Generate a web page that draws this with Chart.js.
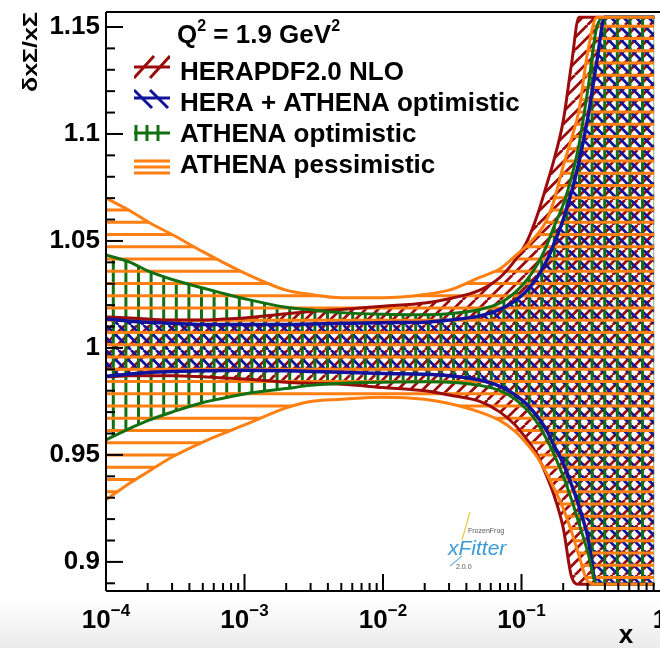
<!DOCTYPE html>
<html>
<head>
<meta charset="utf-8">
<title>dxS/xS at Q2 = 1.9 GeV2</title>
<script src="https://cdn.jsdelivr.net/npm/chart.js@4.4.1/dist/chart.umd.min.js"></script>
<style>
  html, body { margin: 0; padding: 0; background: #fff; }
  #wrap { width: 660px; height: 648px; }
</style>
</head>
<body>
<div id="wrap"><canvas id="myChart" width="660" height="648"></canvas></div>
<script>
'use strict';

var xValues = [1e-4, 1.5e-4, 2e-4, 3e-4, 5e-4, 7e-4, 1e-3, 2e-3, 3e-3, 5e-3, 1e-2, 2e-2, 3e-2, 5e-2, 7e-2,
    0.09, 0.11, 0.13, 0.15, 0.17, 0.2, 0.23, 0.26, 0.3, 0.35, 0.4, 0.5, 0.7, 0.91];

// HERAPDF2.0 NLO
var heraUp = [1.0145, 1.014, 1.0135, 1.013, 1.013, 1.0135, 1.014, 1.016, 1.017, 1.018, 1.0195, 1.021, 1.023, 1.027, 1.033,
    1.041, 1.050, 1.062, 1.075, 1.087, 1.106, 1.133, 1.1545, 1.1545, 1.1545, 1.1545, 1.1545, 1.1545, 1.1545];
var heraDn = [0.9865, 0.987, 0.987, 0.987, 0.9865, 0.986, 0.9855, 0.984, 0.9835, 0.983, 0.9815, 0.980, 0.978, 0.975, 0.970,
    0.964, 0.957, 0.950, 0.941, 0.932, 0.916, 0.893, 0.8895, 0.8895, 0.8895, 0.8895, 0.8895, 0.8895, 0.8895];
// HERA + ATHENA optimistic
var heraAthUp = [1.0135, 1.0125, 1.012, 1.0115, 1.011, 1.011, 1.011, 1.011, 1.0112, 1.0115, 1.0118, 1.012, 1.013, 1.015, 1.018,
    1.022, 1.027, 1.033, 1.040, 1.048, 1.060, 1.073, 1.087, 1.107, 1.134, 1.1545, 1.1545, 1.1545, 1.1545];
var heraAthDn = [0.9868, 0.9878, 0.9885, 0.989, 0.9893, 0.9895, 0.9896, 0.9893, 0.989, 0.9886, 0.988, 0.9877, 0.987, 0.985, 0.982,
    0.978, 0.9735, 0.968, 0.962, 0.955, 0.946, 0.936, 0.926, 0.912, 0.8895, 0.8895, 0.8895, 0.8895, 0.8895];
// ATHENA optimistic
var athOptUp = [1.0435, 1.040, 1.036, 1.032, 1.028, 1.0255, 1.023, 1.019, 1.0178, 1.0165, 1.0157, 1.0155, 1.016, 1.018, 1.021,
    1.026, 1.032, 1.039, 1.047, 1.056, 1.067, 1.080, 1.095, 1.120, 1.150, 1.1545, 1.1545, 1.1545, 1.1545];
var athOptDn = [0.957, 0.9625, 0.966, 0.970, 0.9745, 0.9765, 0.9785, 0.981, 0.9825, 0.9835, 0.984, 0.9842, 0.984, 0.9825, 0.980,
    0.976, 0.971, 0.965, 0.958, 0.951, 0.940, 0.929, 0.918, 0.905, 0.8895, 0.8895, 0.8895, 0.8895, 0.8895];
// ATHENA pessimistic
var athPesUp = [1.070, 1.064, 1.059, 1.053, 1.045, 1.040, 1.035, 1.027, 1.025, 1.0235, 1.0235, 1.025, 1.027, 1.033, 1.037,
    1.043, 1.048, 1.053, 1.059, 1.068, 1.085, 1.098, 1.111, 1.138, 1.1545, 1.1545, 1.1545, 1.1545, 1.1545];
var athPesDn = [0.929, 0.937, 0.942, 0.949, 0.956, 0.960, 0.964, 0.972, 0.975, 0.976, 0.977, 0.976, 0.974, 0.970, 0.966,
    0.961, 0.955, 0.949, 0.942, 0.935, 0.925, 0.914, 0.903, 0.891, 0.8895, 0.8895, 0.8895, 0.8895, 0.8895];

var bandLabels = ['HERAPDF2.0 NLO', 'HERA + ATHENA optimistic', 'ATHENA optimistic', 'ATHENA pessimistic'];
var yTickValues = [0.9, 0.95, 1, 1.05, 1.1, 1.15];
var yTickLabels = ['0.9', '0.95', '1', '1.05', '1.1', '1.15'];
var xTickValues = [1e-4, 1e-3, 1e-2, 1e-1, 1];
var xTickBases = ['10', '10', '10', '10', '1'];
var xTickExps = ['\u22124', '\u22123', '\u22122', '\u22121', ''];

var RED = '#9c0b0b', BLUE = '#12129c', GREEN = '#127012', ORANGE = '#ff7f12';
var FONT = '"Liberation Sans", Arial, Helvetica, sans-serif';

var canvas = document.getElementById('myChart');
var ctx = canvas.getContext('2d');

// ROOT-like hatch: tile of `size` px holding `count` lines
function hatch(color, kind, size, count, phase, lw) {
    var t = document.createElement('canvas');
    t.width = size;
    t.height = size;
    var g = t.getContext('2d');
    var p = size / count;
    g.strokeStyle = color;
    g.lineWidth = lw;
    g.beginPath();
    for (var s = phase - 2 * size; s <= 3 * size; s += p) {
        if (kind === 'h') { g.moveTo(0, s); g.lineTo(size, s); }
        else if (kind === 'v') { g.moveTo(s, 0); g.lineTo(s, size); }
        else if (kind === '/') { g.moveTo(s, 0); g.lineTo(s - size, size); }
        else { g.moveTo(s, 0); g.lineTo(s + size, size); }
    }
    g.stroke();
    return ctx.createPattern(t, 'repeat');
}

var bands = [
    { up: athPesUp, dn: athPesDn, color: ORANGE, kind: 'h', fill: hatch(ORANGE, 'h', 49, 4, 1.75, 3), width: 3 },
    { up: athOptUp, dn: athOptDn, color: GREEN, kind: 'v', fill: hatch(GREEN, 'v', 63, 5, 12.5, 3), width: 3 },
    { up: heraAthUp, dn: heraAthDn, color: BLUE, kind: '\\', fill: hatch(BLUE, '\\', 25, 2, 6, 2.7), width: 3.5 },
    { up: heraUp, dn: heraDn, color: RED, kind: '/', fill: hatch(RED, '/', 25, 2, 0, 2.7), width: 3 }
];
// legend order differs from drawing order
var legendBands = [bands[3], bands[2], bands[1], bands[0]];

var datasets = [];
bands.forEach(function (b) {
    datasets.push({ data: b.up, borderColor: b.color, borderWidth: b.width, pointRadius: 0,
        fill: false, cubicInterpolationMode: 'monotone' });
    datasets.push({ data: b.dn, borderColor: b.color, borderWidth: b.width, pointRadius: 0,
        fill: '-1', backgroundColor: b.fill, cubicInterpolationMode: 'monotone' });
});

function line(c, x1, y1, x2, y2) {
    c.beginPath();
    c.moveTo(x1, y1);
    c.lineTo(x2, y2);
    c.stroke();
}

// small legend symbol: a few hatch strokes plus the band line through the middle
function legendIcon(c, b, cy) {
    var x0 = 134, x1 = 170;
    c.save();
    c.strokeStyle = b.color;
    c.lineWidth = 3;
    c.beginPath();
    c.rect(x0, cy - 12, x1 - x0, 24);
    c.clip();
    if (b.kind === 'h') {
        line(c, x0, cy - 6, x1, cy - 6);
        line(c, x0, cy + 6, x1, cy + 6);
    } else if (b.kind === 'v') {
        [136, 147, 158].forEach(function (x) { line(c, x, cy - 8, x, cy + 8); });
    } else if (b.kind === '/') {
        line(c, 134, cy + 11, 154, cy - 11);
        line(c, 150, cy + 11, 170, cy - 11);
    } else {
        line(c, 134, cy - 8, 152, cy + 10);
        line(c, 150, cy - 8, 168, cy + 10);
    }
    line(c, x0, cy, x1, cy);
    c.restore();
}

var rootStyle = {
    id: 'rootStyle',
    beforeDraw: function (chart) {
        var c = chart.ctx;
        c.save();
        c.fillStyle = '#ffffff';
        c.fillRect(0, 0, chart.width, chart.height);
        var g = c.createLinearGradient(0, 600, 0, 648);
        g.addColorStop(0, '#ffffff');
        g.addColorStop(1, '#ebebeb');
        c.fillStyle = g;
        c.fillRect(0, 600, chart.width, 48);
        c.restore();
    },
    afterDraw: function (chart) {
        var c = chart.ctx;
        var a = chart.chartArea;
        var xs = chart.scales.x, ys = chart.scales.y;
        c.save();
        c.strokeStyle = '#000';
        c.lineWidth = 2;
        line(c, a.left, a.top, a.right, a.top);
        line(c, a.left, a.top, a.left, a.bottom);
        line(c, a.left, a.bottom, a.right, a.bottom);

        // y ticks, inside the frame
        for (var k = 89; k <= 115; k++) {
            var yp = ys.getPixelForValue(k / 100);
            line(c, a.left, yp, a.left + (k % 5 === 0 ? 17 : 9), yp);
        }
        // x ticks
        for (var d = -4; d < 0; d++) {
            for (var m = 1; m <= 9; m++) {
                var xp = xs.getPixelForValue(m * Math.pow(10, d));
                line(c, xp, a.bottom, xp, a.bottom - (m === 1 ? 17 : 8));
            }
        }

        c.fillStyle = '#000';
        c.font = 'bold 26px ' + FONT;
        c.textAlign = 'right';
        c.textBaseline = 'middle';
        yTickValues.forEach(function (v, i) {
            c.fillText(yTickLabels[i], 100, ys.getPixelForValue(v));
        });

        c.textAlign = 'left';
        c.textBaseline = 'alphabetic';
        xTickValues.forEach(function (v, i) {
            c.font = 'bold 26px ' + FONT;
            var wb = c.measureText(xTickBases[i]).width;
            c.font = 'bold 17px ' + FONT;
            var we = c.measureText(xTickExps[i]).width;
            var x0 = xs.getPixelForValue(v) - (wb + we) / 2;
            c.font = 'bold 26px ' + FONT;
            c.fillText(xTickBases[i], x0, 628);
            c.font = 'bold 17px ' + FONT;
            c.fillText(xTickExps[i], x0 + wb, 616);
        });

        // axis titles
        c.font = 'bold 26px ' + FONT;
        c.textAlign = 'center';
        c.fillText('x', 626, 643);
        c.save();
        c.font = 'bold 20px ' + FONT;
        var ttl = '\u03b4x\u03a3/x\u03a3';
        var tw = c.measureText(ttl).width;
        c.translate(37, 12);
        c.rotate(-Math.PI / 2);
        c.scale(80 / tw, 1);
        c.textAlign = 'right';
        c.fillText(ttl, 0, 0);
        c.restore();

        // legend
        c.textAlign = 'left';
        c.font = 'bold 26px ' + FONT;
        c.fillText('Q', 177, 43);
        var qx = 177 + c.measureText('Q').width;
        c.font = 'bold 16px ' + FONT;
        c.fillText('2', qx, 31);
        qx += c.measureText('2').width;
        c.font = 'bold 26px ' + FONT;
        c.fillText(' = 1.9 GeV', qx, 43);
        qx += c.measureText(' = 1.9 GeV').width;
        c.font = 'bold 16px ' + FONT;
        c.fillText('2', qx, 31);

        var rows = [80, 111, 142, 173];
        var iconY = [67, 98, 133, 167];
        legendBands.forEach(function (b, i) {
            legendIcon(c, b, iconY[i]);
            c.fillStyle = '#000';
            c.font = 'bold 26px ' + FONT;
            c.fillText(bandLabels[i], 180, rows[i]);
        });

        // xFitter logo text
        c.fillStyle = '#555';
        c.font = '7px ' + FONT;
        c.fillText('FrozenFrog', 468, 533);
        c.fillText('2.0.0', 456, 569);
        c.fillStyle = '#3d9ad8';
        c.font = 'italic 21px ' + FONT;
        c.fillText('xFitter', 448, 555);
        c.strokeStyle = '#e8c94a';
        c.lineWidth = 1.2;
        line(c, 462, 540, 470, 512);
        c.strokeStyle = '#7ab8e0';
        line(c, 450, 566, 462, 556);
        c.restore();
    }
};

var myChart = new Chart(ctx, {
    type: 'line',
    data: { labels: xValues, datasets: datasets },
    options: {
        responsive: false,
        animation: false,
        devicePixelRatio: 1,
        layout: { padding: { left: 106, right: 0, top: 12, bottom: 57 } },
        scales: {
            x: { type: 'logarithmic', min: 1e-4, max: 1, display: false },
            y: { type: 'linear', min: 0.8864, max: 1.157, display: false }
        },
        plugins: {
            legend: { display: false },
            tooltip: { enabled: false },
            filler: { drawTime: 'beforeDatasetsDraw' }
        }
    },
    plugins: [rootStyle]
});
</script>
</body>
</html>
